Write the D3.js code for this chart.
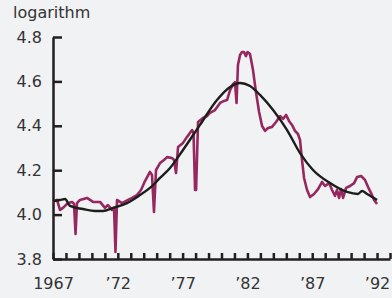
<!DOCTYPE html>
<html>
<head>
<meta charset="utf-8">
<script src="https://cdn.jsdelivr.net/npm/d3@7"></script>
<style>
    body { margin: 0; background: #f1f2f4; }
    svg { display: block; }
</style>
</head>
<body>
<svg id="chart"></svg>
<script>
const unitLabel = 'logarithm';
const yTickValues = [3.8, 4.0, 4.2, 4.4, 4.6, 4.8];
const xTickYears = d3.range(1967, 1994);
const xLabelYears = [1967, 1972, 1977, 1982, 1987, 1992];
const xLabelText = ['1967', '\u201972', '\u201977', '\u201982', '\u201987', '\u201992'];

// smooth trend (black)
const trendYears = [1967.00, 1967.54, 1967.93, 1968.31, 1969.31, 1970.24, 1970.86, 1971.63, 1972.71, 1973.71,
    1974.48, 1975.26, 1976.03, 1977.03, 1978.34, 1979.65, 1980.66, 1981.43, 1982.20, 1982.97,
    1983.98, 1985.06, 1986.06, 1987.06, 1988.37, 1989.69, 1990.53, 1990.84, 1991.23, 1992.00];
const trendValues = [4.061, 4.066, 4.070, 4.039, 4.025, 4.016, 4.016, 4.030, 4.052, 4.088,
    4.120, 4.165, 4.210, 4.291, 4.404, 4.516, 4.575, 4.593, 4.579, 4.539,
    4.471, 4.381, 4.277, 4.201, 4.142, 4.102, 4.093, 4.106, 4.093, 4.066];

// actual series (purple)
const seriesYears = [1967.00, 1967.31, 1967.54, 1967.77, 1968.16, 1968.47, 1968.62, 1968.74, 1968.85, 1969.08,
    1969.62, 1970.09, 1970.63, 1971.01, 1971.24, 1971.55, 1971.71, 1971.82, 1971.94, 1972.32,
    1972.79, 1973.10, 1973.48, 1973.79, 1974.10, 1974.48, 1974.64, 1974.79, 1974.95, 1975.26,
    1975.56, 1975.80, 1976.18, 1976.34, 1976.49, 1976.65, 1977.03, 1977.34, 1977.73, 1977.84,
    1977.96, 1978.04, 1978.19, 1978.57, 1978.88, 1979.11, 1979.50, 1979.89, 1980.19, 1980.43,
    1980.66, 1980.89, 1981.04, 1981.16, 1981.27, 1981.43, 1981.58, 1981.74, 1981.89, 1982.01,
    1982.20, 1982.43, 1982.66, 1982.90, 1983.13, 1983.36, 1983.59, 1983.90, 1984.21, 1984.52,
    1984.75, 1984.98, 1985.21, 1985.44, 1985.67, 1985.90, 1986.06, 1986.21, 1986.37, 1986.60,
    1986.83, 1987.14, 1987.45, 1987.76, 1987.99, 1988.30, 1988.53, 1988.76, 1988.91, 1989.07,
    1989.22, 1989.38, 1989.61, 1989.92, 1990.23, 1990.46, 1990.77, 1991.07, 1991.31, 1991.54,
    1991.77, 1992.00];
const seriesValues = [4.057, 4.066, 4.021, 4.030, 4.052, 4.057, 4.048, 3.913, 4.052, 4.066,
    4.075, 4.057, 4.057, 4.030, 4.043, 4.021, 4.030, 3.832, 4.066, 4.052,
    4.066, 4.075, 4.088, 4.111, 4.151, 4.192, 4.178, 4.012, 4.201, 4.232,
    4.246, 4.259, 4.255, 4.246, 4.187, 4.305, 4.323, 4.350, 4.381, 4.368,
    4.111, 4.111, 4.417, 4.435, 4.444, 4.458, 4.471, 4.503, 4.512, 4.516,
    4.561, 4.588, 4.597, 4.503, 4.674, 4.719, 4.732, 4.732, 4.714, 4.732,
    4.723, 4.651, 4.552, 4.462, 4.399, 4.377, 4.390, 4.395, 4.417, 4.444,
    4.431, 4.449, 4.422, 4.404, 4.377, 4.363, 4.336, 4.246, 4.165, 4.111,
    4.079, 4.093, 4.115, 4.147, 4.129, 4.142, 4.111, 4.084, 4.111, 4.075,
    4.115, 4.075, 4.120, 4.129, 4.142, 4.169, 4.174, 4.156, 4.124, 4.097,
    4.066, 4.048];

class LogChart {

    constructor(_config) {
        this.config = {
            parentElement: _config.parentElement,
            width: _config.width || 392,
            height: _config.height || 298,
            margin: {top: 37, right: 2, bottom: 39, left: 53}
        };
        this.initVis();
    }

    initVis() {
        let vis = this;
        const m = vis.config.margin;

        vis.svg = d3.select(vis.config.parentElement)
            .attr('width', vis.config.width)
            .attr('height', vis.config.height);

        vis.x = d3.scaleLinear()
            .domain([1967, 1993])
            .range([m.left, vis.config.width - m.right]);

        vis.y = d3.scaleLinear()
            .domain([3.8, 4.8])
            .range([vis.config.height - m.bottom, m.top]);
    }

    render() {
        let vis = this;
        const m = vis.config.margin;
        const axisColor = '#231f20';

        vis.svg.append('text')
            .attr('x', 13)
            .attr('y', 18)
            .attr('font-family', 'DejaVu Sans, sans-serif')
            .attr('font-size', 16)
            .attr('fill', '#333')
            .text(unitLabel);

        const yAxis = vis.svg.append('g')
            .attr('transform', `translate(${m.left},0)`)
            .call(d3.axisLeft(vis.y)
                .tickValues(yTickValues)
                .tickFormat(d3.format('.1f'))
                .tickSizeInner(-9)
                .tickSizeOuter(0)
                .tickPadding(11));

        const xAxis = vis.svg.append('g')
            .attr('transform', `translate(0,${vis.y(3.8)})`)
            .call(d3.axisBottom(vis.x)
                .tickValues(xTickYears)
                .tickFormat(d => {
                    const i = xLabelYears.indexOf(d);
                    return i >= 0 ? xLabelText[i] : '';
                })
                .tickSizeInner(-6)
                .tickSizeOuter(0)
                .tickPadding(19));

        [yAxis, xAxis].forEach(g => {
            g.selectAll('.domain, line')
                .attr('stroke', axisColor)
                .attr('stroke-width', 2.5);
            g.selectAll('text')
                .attr('font-family', 'DejaVu Sans, sans-serif')
                .attr('font-size', 16)
                .attr('fill', '#333');
        });

        const line = d3.line()
            .x(d => vis.x(d[0]))
            .y(d => vis.y(d[1]));

        vis.svg.append('path')
            .datum(d3.zip(seriesYears, seriesValues))
            .attr('fill', 'none')
            .attr('stroke', '#97285f')
            .attr('stroke-width', 2.6)
            .attr('stroke-linejoin', 'round')
            .attr('d', line);

        vis.svg.append('path')
            .datum(d3.zip(trendYears, trendValues))
            .attr('fill', 'none')
            .attr('stroke', '#1d1d1b')
            .attr('stroke-width', 2.4)
            .attr('stroke-linejoin', 'round')
            .attr('d', line.curve(d3.curveMonotoneX));
    }
}

const chart = new LogChart({parentElement: '#chart'});
chart.render();
</script>
</body>
</html>
